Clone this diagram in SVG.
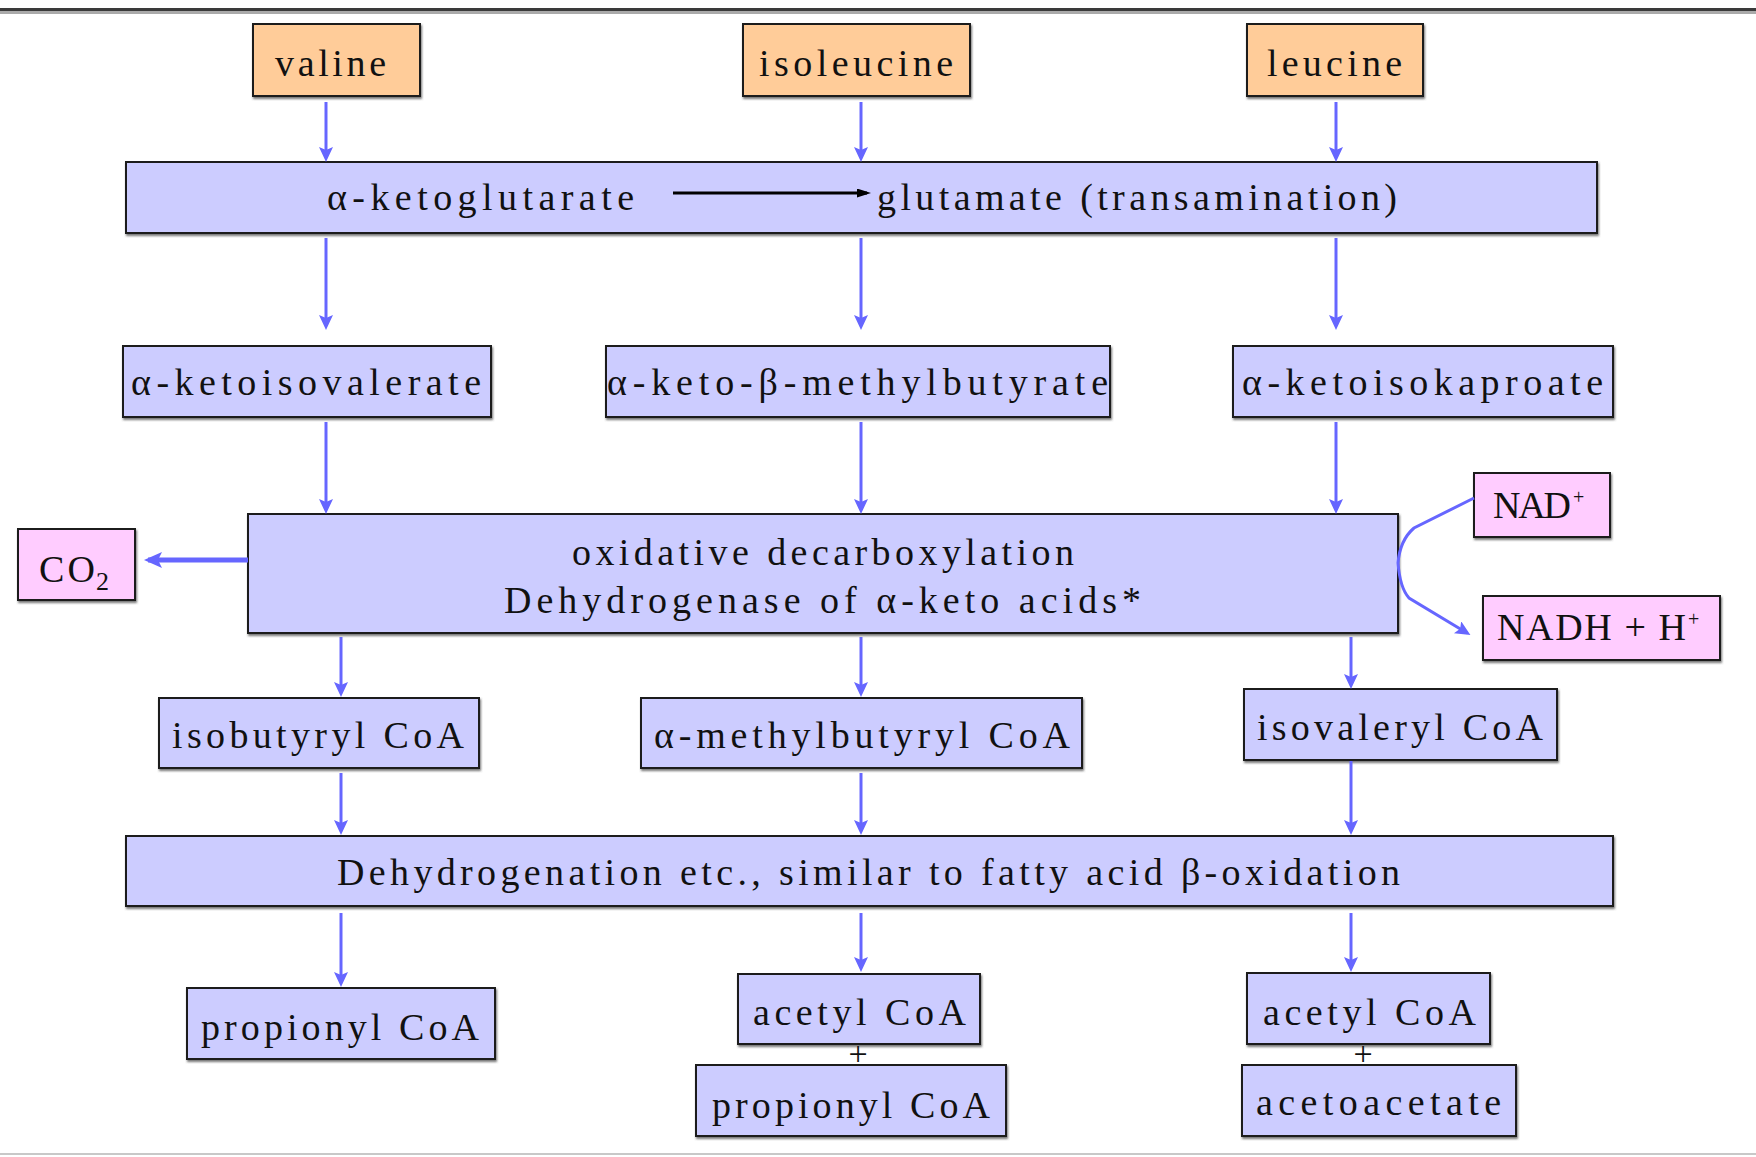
<svg xmlns="http://www.w3.org/2000/svg" width="1756" height="1157" viewBox="0 0 1756 1157">
<defs>
<style>
.bx{fill:#CCCCFF;stroke:#1a1a1a;stroke-width:2;filter:url(#sh)}
.or{fill:#FFCC99;stroke:#1a1a1a;stroke-width:2;filter:url(#sh)}
.pk{fill:#FFCCFF;stroke:#1a1a1a;stroke-width:2;filter:url(#sh)}
text{font-family:"Liberation Serif","Times New Roman",serif;font-size:38px;fill:#111}
.ar{stroke:#6666FF;stroke-width:3;fill:none;marker-end:url(#ah)}
</style>
<filter id="sh" x="-5%" y="-5%" width="110%" height="120%">
<feDropShadow dx="1" dy="2" stdDeviation="0.8" flood-color="#555" flood-opacity="0.8"/>
</filter>
<marker id="ah" markerUnits="userSpaceOnUse" markerWidth="18" markerHeight="16" refX="11" refY="7" orient="auto">
<path d="M0,0 L15,7 L0,14 L3,7 z" fill="#6666FF"/>
</marker>
<marker id="ahb" markerUnits="userSpaceOnUse" markerWidth="20" markerHeight="18" refX="14" refY="8" orient="auto">
<path d="M0,0 L18,8 L0,16 L4,8 z" fill="#6666FF"/>
</marker>
<marker id="ahk" markerUnits="userSpaceOnUse" markerWidth="16" markerHeight="12" refX="10" refY="4.5" orient="auto">
<path d="M0,0 L14,4.5 L0,9 z" fill="#000"/>
</marker>
</defs>
<rect x="0" y="0" width="1756" height="1157" fill="#fff"/>
<rect x="0" y="8" width="1756" height="3" fill="#3a3a3a"/>
<rect x="0" y="11" width="1756" height="3" fill="#aaa"/>
<rect x="0" y="1153" width="1756" height="2" fill="#c8c8c8"/>

<g id="valine"><rect class="or" x="253" y="24" width="167" height="72"/><text x="275" y="76" textLength="111" lengthAdjust="spacing">valine</text></g>
<g id="isoleucine"><rect class="or" x="743" y="24" width="227" height="72"/><text x="759" y="76" textLength="194" lengthAdjust="spacing">isoleucine</text></g>
<g id="leucine"><rect class="or" x="1247" y="24" width="176" height="72"/><text x="1267" y="76" textLength="135" lengthAdjust="spacing">leucine</text></g>

<g id="transamination"><rect class="bx" x="126" y="162" width="1471" height="71"/>
<text x="327" y="210" textLength="307" lengthAdjust="spacing">α-ketoglutarate</text>
<text x="877" y="210" textLength="520" lengthAdjust="spacing">glutamate (transamination)</text></g>

<g id="ketoisovalerate"><rect class="bx" x="123" y="346" width="368" height="71"/><text x="131" y="395" textLength="350" lengthAdjust="spacing">α-ketoisovalerate</text></g>
<g id="ketomethylbutyrate"><rect class="bx" x="606" y="346" width="504" height="71"/><text x="607" y="395" textLength="501" lengthAdjust="spacing">α-keto-β-methylbutyrate</text></g>
<g id="ketoisokaproate"><rect class="bx" x="1233" y="346" width="380" height="71"/><text x="1242" y="395" textLength="361" lengthAdjust="spacing">α-ketoisokaproate</text></g>

<g id="oxidative"><rect class="bx" x="248" y="514" width="1150" height="119"/>
<text x="572" y="565" textLength="502" lengthAdjust="spacing">oxidative decarboxylation</text>
<text x="504" y="613" textLength="637" lengthAdjust="spacing">Dehydrogenase of α-keto acids*</text></g>

<g id="co2"><rect class="pk" x="18" y="529" width="117" height="71"/><text x="39" y="582" textLength="56" lengthAdjust="spacing">CO</text><text x="96" y="590" style="font-size:26px">2</text></g>
<g id="nad"><rect class="pk" x="1474" y="473" width="136" height="64"/><text x="1493" y="518" textLength="78" lengthAdjust="spacing">NAD</text><text x="1573" y="504" style="font-size:20px">+</text></g>
<g id="nadh"><rect class="pk" x="1483" y="596" width="237" height="64"/><text x="1497" y="640" textLength="189" lengthAdjust="spacing">NADH +  H</text><text x="1688" y="626" style="font-size:20px">+</text></g>

<g id="isobutyryl"><rect class="bx" x="159" y="698" width="320" height="70"/><text x="172" y="748" textLength="292" lengthAdjust="spacing">isobutyryl CoA</text></g>
<g id="methylbutyryl"><rect class="bx" x="641" y="698" width="441" height="70"/><text x="654" y="748" textLength="416" lengthAdjust="spacing">α-methylbutyryl CoA</text></g>
<g id="isovaleryl"><rect class="bx" x="1244" y="689" width="313" height="71"/><text x="1257" y="740" textLength="286" lengthAdjust="spacing">isovaleryl CoA</text></g>

<g id="dehydrogenation"><rect class="bx" x="126" y="836" width="1487" height="70"/><text x="337" y="885" textLength="1063" lengthAdjust="spacing">Dehydrogenation etc., similar to fatty acid β-oxidation</text></g>

<g id="propionyl1"><rect class="bx" x="187" y="988" width="308" height="71"/><text x="201" y="1040" textLength="278" lengthAdjust="spacing">propionyl CoA</text></g>
<g id="acetyl1"><rect class="bx" x="738" y="974" width="242" height="70"/><text x="753" y="1025" textLength="213" lengthAdjust="spacing">acetyl CoA</text></g>
<g id="propionyl2"><rect class="bx" x="696" y="1065" width="310" height="71"/><text x="712" y="1118" textLength="278" lengthAdjust="spacing">propionyl CoA</text></g>
<g id="acetyl2"><rect class="bx" x="1247" y="973" width="243" height="71"/><text x="1263" y="1025" textLength="213" lengthAdjust="spacing">acetyl CoA</text></g>
<g id="acetoacetate"><rect class="bx" x="1242" y="1065" width="274" height="71"/><text x="1256" y="1115" textLength="245" lengthAdjust="spacing">acetoacetate</text></g>
<text x="858" y="1065" text-anchor="middle" style="font-size:34px">+</text>
<text x="1363" y="1065" text-anchor="middle" style="font-size:34px">+</text>

<g id="connectors">
<line class="ar" x1="326" y1="102" x2="326" y2="158"/>
<line class="ar" x1="861" y1="102" x2="861" y2="158"/>
<line class="ar" x1="1336" y1="102" x2="1336" y2="158"/>
<line class="ar" x1="326" y1="238" x2="326" y2="326"/>
<line class="ar" x1="861" y1="238" x2="861" y2="326"/>
<line class="ar" x1="1336" y1="238" x2="1336" y2="326"/>
<line class="ar" x1="326" y1="422" x2="326" y2="510"/>
<line class="ar" x1="861" y1="422" x2="861" y2="510"/>
<line class="ar" x1="1336" y1="422" x2="1336" y2="510"/>
<line class="ar" x1="341" y1="637" x2="341" y2="693"/>
<line class="ar" x1="861" y1="637" x2="861" y2="693"/>
<line class="ar" x1="1351" y1="637" x2="1351" y2="685"/>
<line class="ar" x1="341" y1="773" x2="341" y2="831"/>
<line class="ar" x1="861" y1="773" x2="861" y2="831"/>
<line class="ar" x1="1351" y1="761" x2="1351" y2="831"/>
<line class="ar" x1="341" y1="913" x2="341" y2="983"/>
<line class="ar" x1="861" y1="913" x2="861" y2="968"/>
<line class="ar" x1="1351" y1="913" x2="1351" y2="968"/>
<line x1="248" y1="560" x2="148" y2="560" stroke="#6666FF" stroke-width="5" marker-end="url(#ahb)"/>
<path class="ar" d="M1474,498 L1414,528 Q1400,540 1398,563 Q1400,588 1409,598 L1467,633"/>
<line x1="673" y1="193" x2="867" y2="193" stroke="#000" stroke-width="3" marker-end="url(#ahk)"/>
</g>
</svg>
